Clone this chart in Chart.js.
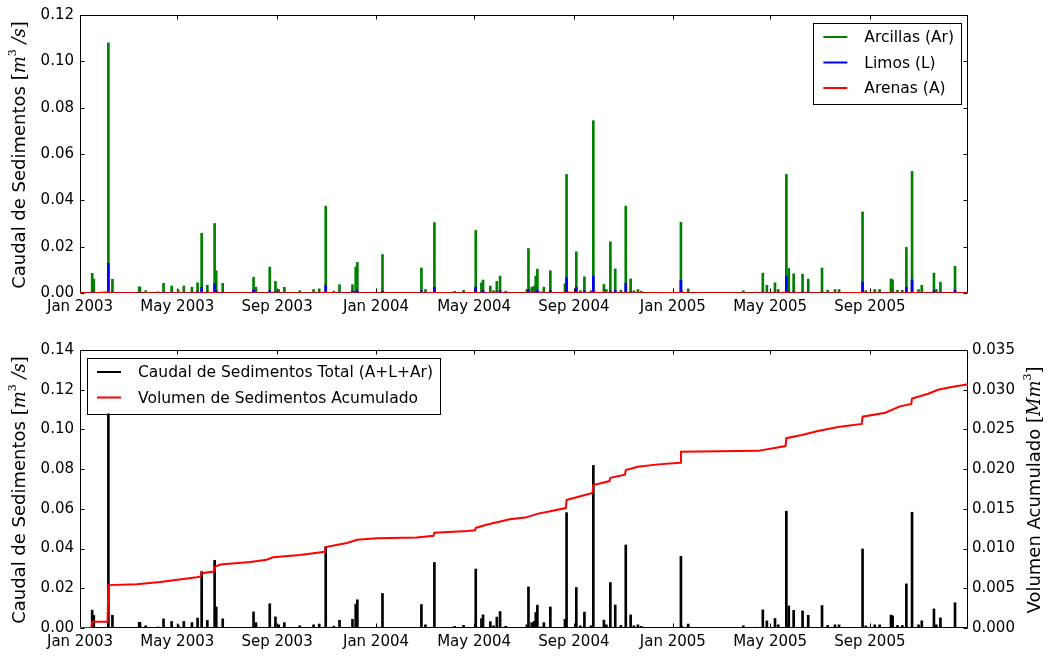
<!DOCTYPE html>
<html><head><meta charset="utf-8">
<script src="https://cdn.jsdelivr.net/npm/chart.js@4.4.1/dist/chart.umd.min.js"></script>
<style>
html,body{margin:0;padding:0;background:#fff;width:1055px;height:656px;overflow:hidden}
.box{position:absolute;left:0;width:1055px}
#c1box{top:0;height:320px}
#c2box{top:320px;height:336px}
</style></head><body>
<div class="box" id="c1box"><canvas id="c1"></canvas></div>
<div class="box" id="c2box"><canvas id="c2"></canvas></div>
<script>
// x values: days since 1 Jan 2003
const xMax = 1095;
const tickDays = [0, 120, 243, 365, 486, 609, 731, 851, 974];
const tickLabels = ['Jan 2003','May 2003','Sep 2003','Jan 2004','May 2004','Sep 2004','Jan 2005','May 2005','Sep 2005'];

const eventDays = [15,17,35,40,73,74,81,96,103,113,121,128,138,145,150,157,166,168,176,214,
  217,234,241,245,252,271,288,295,303,313,320,336,340,342,373,421,426,437,462,473,
  488,495,497,506,510,514,518,525,551,553,557,560,562,564,568,572,580,598,600,612,
  617,622,630,633,646,649,654,660,667,673,679,683,688,692,741,742,750,818,833,842,
  847,857,861,871,874,880,891,898,915,922,931,936,965,969,980,986,1000,1002,1008,1014,
  1019,1026,1034,1038,1053,1056,1061,1079];

const arcillas = [0.0085,0.006,0.108,0.0059,0.0027,0.0025,0.001,0.0005,0.0042,0.003,0.0015,0.003,0.0025,0.0044,0.0258,0.0033,0.030,0.0096,0.0042,0.0068,
  0.0025,0.0112,0.005,0.0015,0.0025,0.001,0.0015,0.0018,0.0375,0.0008,0.0036,0.0036,0.0112,0.0132,0.0166,0.0108,0.0015,0.0304,0.0007,0.0012,
  0.027,0.0044,0.0056,0.003,0.001,0.005,0.0073,0.0008,0.0015,0.0192,0.0025,0.003,0.0073,0.0103,0.0005,0.0025,0.0096,0.004,0.0512,0.0178,
  0.001,0.007,0.001,0.0744,0.0037,0.0015,0.0221,0.0104,0.0012,0.0375,0.0061,0.001,0.0015,0.0008,0.0305,0.0008,0.0018,0.001,0.0004,0.0086,
  0.0033,0.0044,0.0015,0.0512,0.0106,0.0083,0.0081,0.006,0.0108,0.0012,0.0015,0.0015,0.035,0.001,0.0015,0.0015,0.0061,0.0057,0.0012,0.0012,
  0.0197,0.0525,0.0015,0.0033,0.0086,0.0015,0.0047,0.0115];

const limos = [0.0005,0.0003,0.0128,0.0005,0.0002,0.0002,0.0001,0,0.0004,0.0003,0.0001,0.0003,0.0002,0.0006,0.0025,0.0005,0.0039,0.001,0.0004,0.0013,
  0.0002,0.001,0.0006,0.0001,0.0002,0.0001,0.0001,0.0002,0.0033,0.0001,0.0003,0.0008,0.0008,0.001,0.0008,0.001,0.0001,0.0025,0.0001,0.0001,
  0.0026,0.0003,0.001,0.0002,0.0001,0.0005,0.001,0.0001,0.0001,0.0015,0.0002,0.0003,0.0005,0.0012,0,0.0002,0.001,0.0004,0.0066,0.0025,
  0.0001,0.001,0.0001,0.0072,0.0003,0.0001,0.0008,0.0012,0.0001,0.0042,0.0005,0.0001,0.0001,0,0.0055,0,0.0002,0.0001,0,0.0005,
  0.0003,0.0004,0.0001,0.0073,0.0005,0.0006,0.0005,0.0004,0.0005,0.0001,0.0001,0.0001,0.0047,0.0001,0.0001,0.0001,0.0004,0.0004,0.0001,0.0001,
  0.0025,0.0056,0.0001,0.0003,0.001,0.0001,0.0004,0.0012];

const arenas = [0,0,0.0004,0,0,0,0,0,0,0,0,0,0,0,0.0001,0,0.0002,0,0,0,
  0,0,0,0,0,0,0,0,0.0002,0,0,0,0,0,0,0,0,0.0001,0,0,
  0.0001,0,0,0,0,0,0,0,0,0,0,0,0,0,0,0,0,0,0.0003,0.0001,
  0,0,0,0.0003,0,0,0,0,0,0.0001,0,0,0,0,0.0001,0,0,0,0,0,
  0,0,0,0.0003,0,0,0,0,0,0,0,0,0.0001,0,0,0,0,0,0,0,
  0,0.0002,0,0,0,0,0,0];

// accumulated volume (Mm3)
const cumDays = [0,14,15,34,35,70,99,144,149,150,165,166,173,210,230,238,271,302,303,329,342,366,415,436,437,478,487,488,501,530,
  549,565,580,599,600,610,632,633,653,654,672,673,688,713,740,741,836,870,871,890,910,935,964,965,993,1011,1025,1026,1046,1058,1073,1095];
const cumValues = [0,0,0.0008,0.0008,0.0054,0.0055,0.0058,0.0064,0.0065,0.0069,0.0071,0.0077,0.0080,0.0083,0.0086,0.0089,0.0092,0.0096,0.0102,0.0107,0.0111,0.0113,0.0114,0.0116,0.0120,0.0122,0.0123,0.0126,0.0130,0.0137,
  0.0139,0.0144,0.0147,0.0151,0.0161,0.0164,0.0170,0.0180,0.0185,0.0189,0.0193,0.0199,0.0203,0.0206,0.0208,0.0222,0.0223,0.0229,0.0239,0.0243,0.0248,0.0253,0.0257,0.0266,0.0271,0.0279,0.0282,0.0289,0.0295,0.0300,0.0303,0.0307];

const SANS = 'DejaVu Sans', SERIF = 'DejaVu Serif';
Chart.defaults.font.family = SANS;
Chart.defaults.font.size = 15;
Chart.defaults.color = '#000';
Chart.defaults.animation = false;

const pts = (xs, ys) => xs.map((x, i) => ({x: x, y: ys[i]}));
const total = arcillas.map((v, i) => v + limos[i] + arenas[i]);

function drawRuns(ctx, runs, cx, cy) {
  ctx.save();
  ctx.translate(cx, cy);
  ctx.rotate(-Math.PI / 2);
  let w = 0;
  runs.forEach(r => { ctx.font = r.font; r.w = ctx.measureText(r.t).width; w += r.w; });
  let x = -w / 2;
  ctx.textBaseline = 'middle'; ctx.textAlign = 'left'; ctx.fillStyle = '#000';
  runs.forEach(r => { ctx.font = r.font; ctx.fillText(r.t, x, r.dy || 0); x += r.w; });
  ctx.restore();
}
const qTitle = [
  {t:'Caudal de Sedimentos ', font:'18px ' + SANS},
  {t:'[', font:'18px ' + SERIF},
  {t:'m', font:'italic 18px ' + SERIF},
  {t:'3', font:'11px ' + SERIF, dy:-7},
  {t:' /', font:'italic 18px ' + SERIF},
  {t:'s', font:'italic 18px ' + SERIF},
  {t:']', font:'18px ' + SERIF}];
const vTitle = [
  {t:'Volumen Acumulado ', font:'18px ' + SANS},
  {t:'[', font:'18px ' + SERIF},
  {t:'Mm', font:'italic 18px ' + SERIF},
  {t:'3', font:'11px ' + SERIF, dy:-7},
  {t:']', font:'18px ' + SERIF}];

function decor(cfg) {
  return {
    id: 'decor',
    beforeDatasetsDraw(chart) {
      const {ctx, chartArea: a, scales} = chart;
      ctx.save();
      ctx.strokeStyle = '#000'; ctx.lineWidth = 1;
      const L = Math.round(a.left) + 0.5, R = Math.round(a.right) - 0.5;
      const T = Math.round(a.top) + 0.5, B = Math.round(a.bottom) - 0.5;
      ctx.strokeRect(L, T, R - L, B - T);
      ctx.beginPath();
      scales.x.ticks.forEach(t => {
        const px = Math.round(scales.x.getPixelForValue(t.value)) + 0.5;
        ctx.moveTo(px, B); ctx.lineTo(px, B - 4);
        ctx.moveTo(px, T); ctx.lineTo(px, T + 4);
      });
      scales.y.ticks.forEach(t => {
        const py = Math.round(scales.y.getPixelForValue(t.value)) + 0.5;
        ctx.moveTo(L, py); ctx.lineTo(L + 4, py);
        if (!scales.y2) { ctx.moveTo(R, py); ctx.lineTo(R - 4, py); }
      });
      if (scales.y2) scales.y2.ticks.forEach(t => {
        const py = Math.round(scales.y2.getPixelForValue(t.value)) + 0.5;
        ctx.moveTo(R, py); ctx.lineTo(R - 4, py);
      });
      ctx.stroke();
      ctx.restore();
    },
    afterDraw(chart) {
      const {ctx, chartArea: a} = chart;
      drawRuns(ctx, qTitle, 20, (a.top + a.bottom) / 2 + 1);
      if (cfg.rightTitle) drawRuns(ctx, vTitle, 1035, (a.top + a.bottom) / 2 + 1);
      // legend
      const items = cfg.legend;
      ctx.save();
      ctx.font = '15.5px ' + SANS;
      const tw = Math.max(...items.map(it => ctx.measureText(it.label).width));
      const bw = 10 + 24 + 17 + tw + 7;
      const bh = 14 + 25.5 * (items.length - 1) + 16;
      const bx = cfg.legendRight ? a.right - 7 - bw : a.left + 7;
      const by = a.top + 8;
      ctx.fillStyle = '#fff';
      ctx.fillRect(bx, by, bw, bh);
      ctx.strokeStyle = '#000'; ctx.lineWidth = 1;
      ctx.strokeRect(Math.round(bx) + 0.5, Math.round(by) + 0.5, Math.round(bw), Math.round(bh));
      items.forEach((it, i) => {
        const y = by + 14 + 25.5 * i;
        ctx.strokeStyle = it.color; ctx.lineWidth = 2;
        ctx.beginPath(); ctx.moveTo(bx + 10, y); ctx.lineTo(bx + 34, y); ctx.stroke();
        ctx.fillStyle = '#000'; ctx.textBaseline = 'middle'; ctx.textAlign = 'left';
        ctx.fillText(it.label, bx + 51, y + 1);
      });
      ctx.restore();
    }
  };
}

const xScale = (h) => ({
  type: 'linear', min: 0, max: xMax, offset: false,
  grid: {display: false, drawTicks: false}, border: {display: false},
  afterBuildTicks: s => { s.ticks = tickDays.map(v => ({value: v})); },
  afterFit: s => { s.height = h; },
  ticks: {padding: 5, maxRotation: 0, autoSkip: false, callback: (v, i) => tickLabels[i]}
});

new Chart(document.getElementById('c1'), {
  type: 'bar',
  data: {datasets: [
    {label: 'Arcillas (Ar)', data: pts(eventDays, arcillas), backgroundColor: '#008000', barThickness: 2, grouped: false, order: 3},
    {label: 'Limos (L)', data: pts(eventDays, limos), backgroundColor: '#0000ff', barThickness: 2, grouped: false, order: 2},
    {type: 'line', label: 'Arenas (A)', data: [{x: 0, y: 0}].concat(pts(eventDays, arenas), [{x: xMax, y: 0}]),
      borderColor: '#ff0000', borderWidth: 1.5, pointRadius: 0, tension: 0, order: 1}
  ]},
  options: {
    responsive: true, maintainAspectRatio: false,
    layout: {padding: {top: 14, right: 87, left: 0, bottom: 0}},
    plugins: {legend: {display: false}, tooltip: {enabled: false}},
    scales: {
      x: xScale(27),
      y: {min: 0, max: 0.12, grid: {display: false, drawTicks: false}, border: {display: false},
        afterFit: s => { s.width = 80; },
        ticks: {stepSize: 0.02, padding: 6, callback: v => v.toFixed(2)}}
    }
  },
  plugins: [decor({legend: [
    {label: 'Arcillas (Ar)', color: '#008000'},
    {label: 'Limos (L)', color: '#0000ff'},
    {label: 'Arenas (A)', color: '#ff0000'}], legendRight: true})]
});

new Chart(document.getElementById('c2'), {
  type: 'bar',
  data: {datasets: [
    {label: 'Caudal de Sedimentos Total (A+L+Ar)', data: pts(eventDays, total), backgroundColor: '#000000', barThickness: 2, grouped: false, yAxisID: 'y', order: 2},
    {type: 'line', label: 'Volumen de Sedimentos Acumulado', data: pts(cumDays, cumValues), yAxisID: 'y2',
      borderColor: '#ff0000', borderWidth: 2, pointRadius: 0, tension: 0, order: 1}
  ]},
  options: {
    responsive: true, maintainAspectRatio: false,
    layout: {padding: {top: 30, right: 0, left: 0, bottom: 0}},
    plugins: {legend: {display: false}, tooltip: {enabled: false}},
    scales: {
      x: xScale(28),
      y: {position: 'left', min: 0, max: 0.14, grid: {display: false, drawTicks: false}, border: {display: false},
        afterFit: s => { s.width = 80; },
        ticks: {stepSize: 0.02, padding: 6, callback: v => v.toFixed(2)}},
      y2: {position: 'right', min: 0, max: 0.035, grid: {display: false, drawTicks: false}, border: {display: false},
        afterFit: s => { s.width = 87; },
        ticks: {stepSize: 0.005, padding: 4, callback: v => v.toFixed(3)}}
    }
  },
  plugins: [decor({legend: [
    {label: 'Caudal de Sedimentos Total (A+L+Ar)', color: '#000000'},
    {label: 'Volumen de Sedimentos Acumulado', color: '#ff0000'}], legendRight: false, rightTitle: true})]
});
</script>
</body></html>
